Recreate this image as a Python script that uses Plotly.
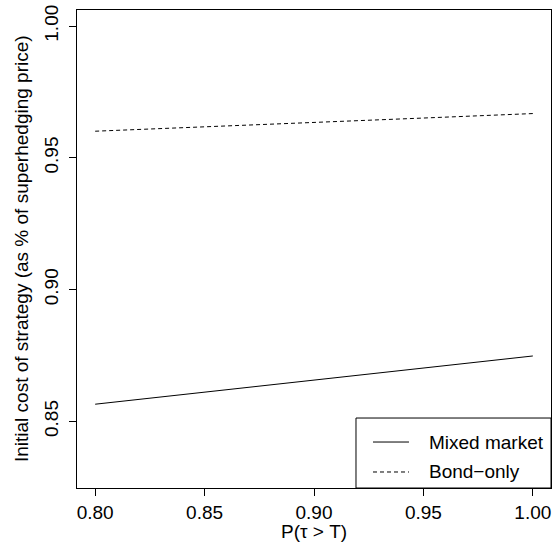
import plotly.graph_objects as go

# Data
p_survival = [0.80, 0.85, 0.90, 0.95, 1.00]
mixed_market = [0.8565, 0.8611, 0.8657, 0.8702, 0.8748]
bond_only = [0.9601, 0.9617, 0.9634, 0.9651, 0.9668]
series_names = ["Mixed market", "Bond\u2212only"]
x_ticks = [0.80, 0.85, 0.90, 0.95, 1.00]
y_ticks = [0.85, 0.90, 0.95, 1.00]

FONT = "Liberation Sans, Arial, Helvetica, sans-serif"
FS = 19

fig = go.Figure()
fig.add_trace(go.Scatter(x=p_survival, y=mixed_market, mode="lines",
                         line=dict(color="black", width=1), name=series_names[0],
                         showlegend=False))
fig.add_trace(go.Scatter(x=p_survival, y=bond_only, mode="lines",
                         line=dict(color="black", width=1, dash="4px,3px"),
                         name=series_names[1], showlegend=False))

# manual legend (R style box at bottom-right)
lx0, lx1, ly0, ly1 = 0.5886, 1.0, 0.0, 0.1464
fig.add_shape(type="rect", xref="paper", yref="paper", x0=lx0, x1=lx1, y0=ly0, y1=ly1,
              line=dict(color="black", width=1), fillcolor="white", layer="above")
leg_y = [0.0962, 0.0335]
dashes = ["solid", "4px,3px"]
for name, yy, d in zip(series_names, leg_y, dashes):
    fig.add_shape(type="line", xref="paper", yref="paper", x0=0.6245, x1=0.7004,
                  y0=yy, y1=yy, line=dict(color="black", width=1, dash=d), layer="above")
    fig.add_annotation(xref="paper", yref="paper", x=0.7384, y=yy, text=name,
                       showarrow=False, xanchor="left", yanchor="middle",
                       font=dict(family=FONT, size=FS, color="black"))

fig.add_annotation(xref="paper", yref="paper", x=-0.118, y=0.5,
                   text="Initial cost of strategy (as % of superhedging price)",
                   textangle=-90, showarrow=False, xanchor="center", yanchor="middle",
                   font=dict(family=FONT, size=FS, color="black"))
fig.add_annotation(xref="paper", yref="paper", x=0.5, y=-0.09,
                   text="P(\u03c4 > T)", showarrow=False, xanchor="center", yanchor="middle",
                   font=dict(family=FONT, size=FS, color="black"))

axis_common = dict(showline=True, mirror=True, linecolor="black", linewidth=1,
                   ticks="outside", ticklen=7, tickwidth=1, tickcolor="black",
                   showgrid=False, zeroline=False,
                   tickfont=dict(family=FONT, size=FS, color="black"))
fig.update_xaxes(range=[0.7917, 1.0083], tickvals=x_ticks,
                 ticktext=[f"{v:.2f}" for v in x_ticks], **axis_common)
fig.update_yaxes(range=[0.8247, 1.0061], tickvals=y_ticks,
                 ticktext=[f"{v:.2f}" for v in y_ticks], tickangle=-90,
                 ticklabelstandoff=3, **axis_common)

fig.update_layout(width=552, height=548, margin=dict(l=77, r=1, t=10, b=60),
                  plot_bgcolor="white", paper_bgcolor="white",
                  font=dict(family=FONT, size=FS, color="black"))
fig.write_html("out.html")
